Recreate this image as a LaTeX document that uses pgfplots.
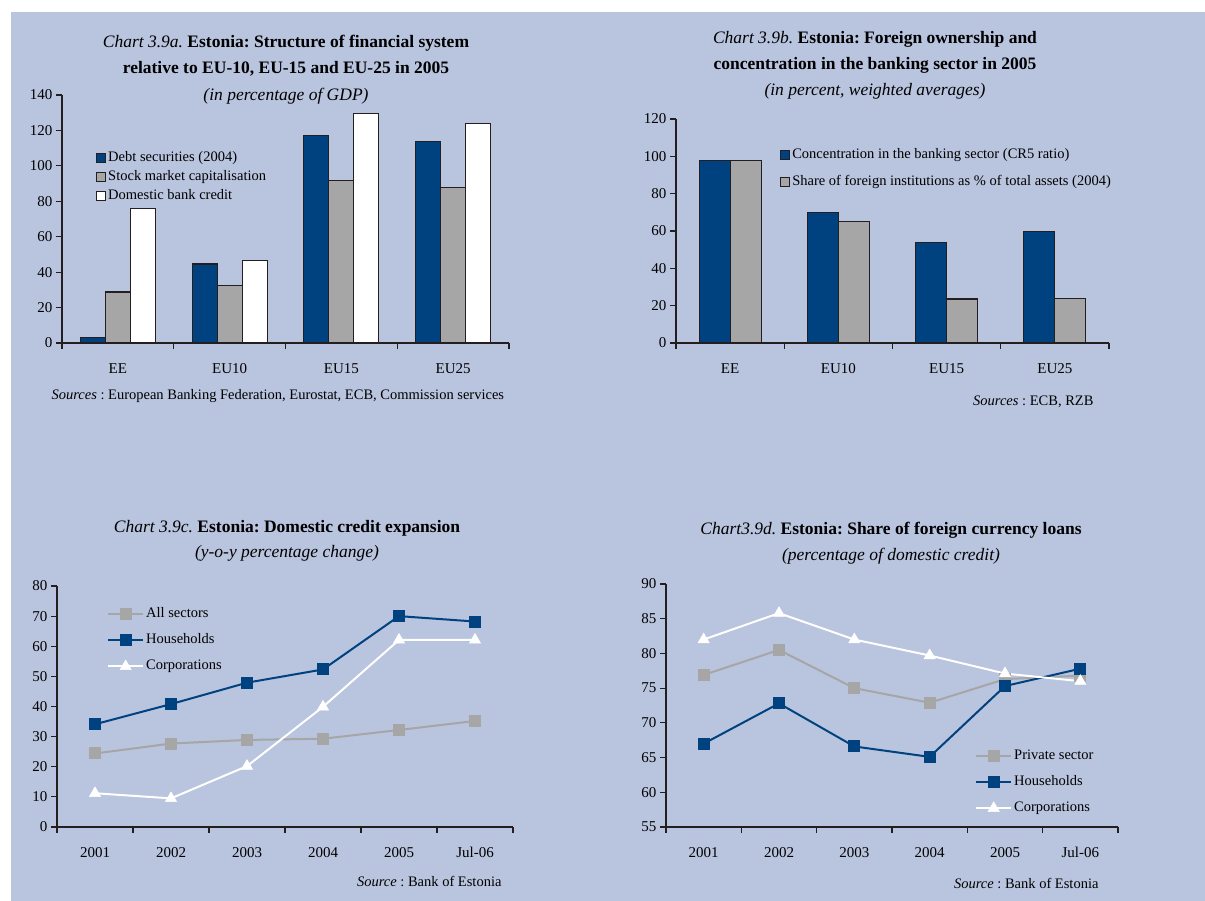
\documentclass[border=0pt]{standalone}
\usepackage{fontspec}
\setmainfont{Liberation Serif}
\usepackage{pgfplots}
\pgfplotsset{compat=1.18}
\definecolor{bg}{RGB}{185,196,222}
\definecolor{eblue}{RGB}{0,66,128}
\definecolor{egrey}{RGB}{166,166,166}
\definecolor{eline}{RGB}{35,31,32}
\newcommand{\tfont}{\fontsize{17.5}{21}\selectfont}
\newcommand{\sfont}{\fontsize{14.5}{17}\selectfont}
\frenchspacing
\pgfplotsset{
  base/.style={
    scale only axis, clip=false,
    axis lines*=left,
    axis line style={eline, line width=1.2pt},
    tick style={eline, line width=1.2pt},
    tick align=outside, major tick length=6pt,
    /pgf/number format/assume math mode=true,
    tick label style={font=\fontsize{15}{18}\selectfont},
    x tick label style={yshift=-11pt},
    x tick label as interval,
    legend cell align=left,
  },
  barleg/.style={legend image code/.code={\draw[##1, line width=1.2pt] (0pt,-4.5pt) rectangle (9pt,4.5pt);}},
  lineleg/.style={legend image code/.code={\draw[mark repeat=2, mark phase=2, ##1] plot coordinates {(0pt,0pt) (17.5pt,0pt) (35pt,0pt)};}},
}
\begin{document}
\begin{tikzpicture}
\fill[white] (0pt,0pt) rectangle (1205pt,901pt);
\fill[bg] (11pt,0pt) rectangle (1205pt,889pt);

% ---------------- Panel a ----------------
\node[anchor=base] at (286pt,853pt) {\tfont\textit{Chart 3.9a.} \textbf{Estonia: Structure of financial system}};
\node[anchor=base] at (286pt,827pt) {\tfont\textbf{relative to EU-10, EU-15 and EU-25 in 2005}};
\node[anchor=base] at (286pt,800pt) {\tfont\textit{(in percentage of GDP)}};
\node[anchor=base west] at (48pt,501pt) {\sfont\textit{Sources} : European Banking Federation, Eurostat, ECB, Commission services};
\begin{axis}[base,
  at={(62pt,558pt)}, anchor=south west,
  width=447pt, height=248pt,
  ymin=0, ymax=140, ytick={0,20,...,140},
  xmin=-0.5, xmax=3.5,
  xtick={-0.5,0.5,1.5,2.5,3.5},
  xticklabels={EE,EU10,EU15,EU25},
  ybar=0pt, bar width=25pt,
  legend style={at={(0.069,0.786)}, anchor=north west, draw=none, fill=none,
    font=\sfont, row sep=4pt,
    nodes={inner ysep=0pt, inner xsep=2pt, text height=11pt, text depth=4pt}},
]
\addplot[fill=eblue, draw=eline, line width=1.2pt, barleg] coordinates {(0,3) (1,44.6) (2,117) (3,113.9)};
\addplot[fill=egrey, draw=eline, line width=1.2pt, barleg] coordinates {(0,28.8) (1,32.6) (2,91.9) (3,87.7)};
\addplot[fill=white, draw=eline, line width=1.2pt, barleg] coordinates {(0,75.7) (1,46.7) (2,129.7) (3,123.8)};
\legend{Debt securities (2004), Stock market capitalisation, Domestic bank credit}
\end{axis}

% ---------------- Panel b ----------------
\node[anchor=base] at (875pt,857pt) {\tfont\textit{Chart 3.9b.} \textbf{Estonia: Foreign ownership and}};
\node[anchor=base] at (875pt,831pt) {\tfont\textbf{concentration in the banking sector in 2005}};
\node[anchor=base] at (875pt,805pt) {\tfont\textit{(in percent, weighted averages)}};
\node[anchor=base east] at (1097pt,495pt) {\sfont\textit{Sources} : ECB, RZB};
\begin{axis}[base,
  at={(676pt,558pt)}, anchor=south west,
  width=433pt, height=224pt,
  ymin=0, ymax=120, ytick={0,20,...,120},
  xmin=-0.5, xmax=3.5,
  xtick={-0.5,0.5,1.5,2.5,3.5},
  xticklabels={EE,EU10,EU15,EU25},
  ybar=0pt, bar width=31pt,
  legend style={at={(0.233,0.882)}, anchor=north west, draw=none, fill=none,
    font=\sfont, row sep=12pt,
    nodes={inner ysep=0pt, inner xsep=2pt, text height=11pt, text depth=4pt}},
]
\addplot[fill=eblue, draw=eline, line width=1.2pt, barleg] coordinates {(0,97.7) (1,69.8) (2,53.9) (3,59.6)};
\addplot[fill=egrey, draw=eline, line width=1.2pt, barleg] coordinates {(0,97.7) (1,65) (2,23.6) (3,23.9)};
\legend{Concentration in the banking sector (CR5 ratio), Share of foreign institutions as \% of total assets (2004)}
\end{axis}

% ---------------- Panel c ----------------
\node[anchor=base] at (287pt,368pt) {\tfont\textit{Chart 3.9c.} \textbf{Estonia: Domestic credit expansion}};
\node[anchor=base] at (287pt,343pt) {\tfont\textit{(y-o-y percentage change)}};
\node[anchor=base east] at (505pt,14pt) {\sfont\textit{Source} : Bank of Estonia};
\begin{axis}[base,
  at={(57pt,74pt)}, anchor=south west,
  width=456pt, height=241pt,
  ymin=0, ymax=80, ytick={0,10,...,80},
  xmin=-0.5, xmax=5.5,
  xtick={-0.5,0.5,...,5.5},
  xticklabels={2001,2002,2003,2004,2005,Jul-06},
  legend style={at={(0.103,0.922)}, anchor=north west, draw=none, fill=none,
    font=\sfont, row sep=11pt,
    nodes={inner ysep=0pt, inner xsep=2pt, text height=11pt, text depth=4pt}},
]
\addplot[egrey, line width=2pt, mark=square*, mark size=5pt, mark options={fill=egrey, draw=egrey}, lineleg] coordinates {(0,24.4) (1,27.7) (2,28.9) (3,29.3) (4,32.2) (5,35.2)};
\addplot[eblue, line width=2pt, mark=square*, mark size=5pt, mark options={fill=eblue, draw=eblue}, lineleg] coordinates {(0,34.1) (1,40.8) (2,47.9) (3,52.3) (4,70.0) (5,68.2)};
\addplot[white, line width=2pt, mark=triangle*, mark size=6.5pt, mark options={fill=white, draw=white, line width=0.5pt}, lineleg] coordinates {(0,11.2) (1,9.5) (2,20.2) (3,39.9) (4,62.1) (5,62.1)};
\legend{All sectors, Households, Corporations}
\end{axis}

% ---------------- Panel d ----------------
\node[anchor=base] at (891pt,366pt) {\tfont\textit{Chart3.9d.} \textbf{Estonia: Share of foreign currency loans}};
\node[anchor=base] at (891pt,340pt) {\tfont\textit{(percentage of domestic credit)}};
\node[anchor=base east] at (1102pt,12pt) {\sfont\textit{Source} : Bank of Estonia};
\begin{axis}[base,
  at={(666pt,74pt)}, anchor=south west,
  width=452pt, height=243pt,
  ymin=55, ymax=90, ytick={55,60,...,90},
  xmin=-0.5, xmax=5.5,
  xtick={-0.5,0.5,...,5.5},
  xticklabels={2001,2002,2003,2004,2005,Jul-06},
  legend style={at={(0.677,0.331)}, anchor=north west, draw=none, fill=none,
    font=\sfont, row sep=11pt,
    nodes={inner ysep=0pt, inner xsep=2pt, text height=11pt, text depth=4pt}},
]
\addplot[egrey, line width=2pt, mark=square*, mark size=5pt, mark options={fill=egrey, draw=egrey}, lineleg] coordinates {(0,76.9) (1,80.5) (2,75) (3,72.9) (4,76.3) (5,76.8)};
\addplot[eblue, line width=2pt, mark=square*, mark size=5pt, mark options={fill=eblue, draw=eblue}, lineleg] coordinates {(0,67.0) (1,72.8) (2,66.6) (3,65.1) (4,75.3) (5,77.8)};
\addplot[white, line width=2pt, mark=triangle*, mark size=6.5pt, mark options={fill=white, draw=white, line width=0.5pt}, lineleg] coordinates {(0,82.0) (1,85.8) (2,82.0) (3,79.7) (4,77.1) (5,76.0)};
\legend{Private sector, Households, Corporations}
\end{axis}
\end{tikzpicture}
\end{document}
